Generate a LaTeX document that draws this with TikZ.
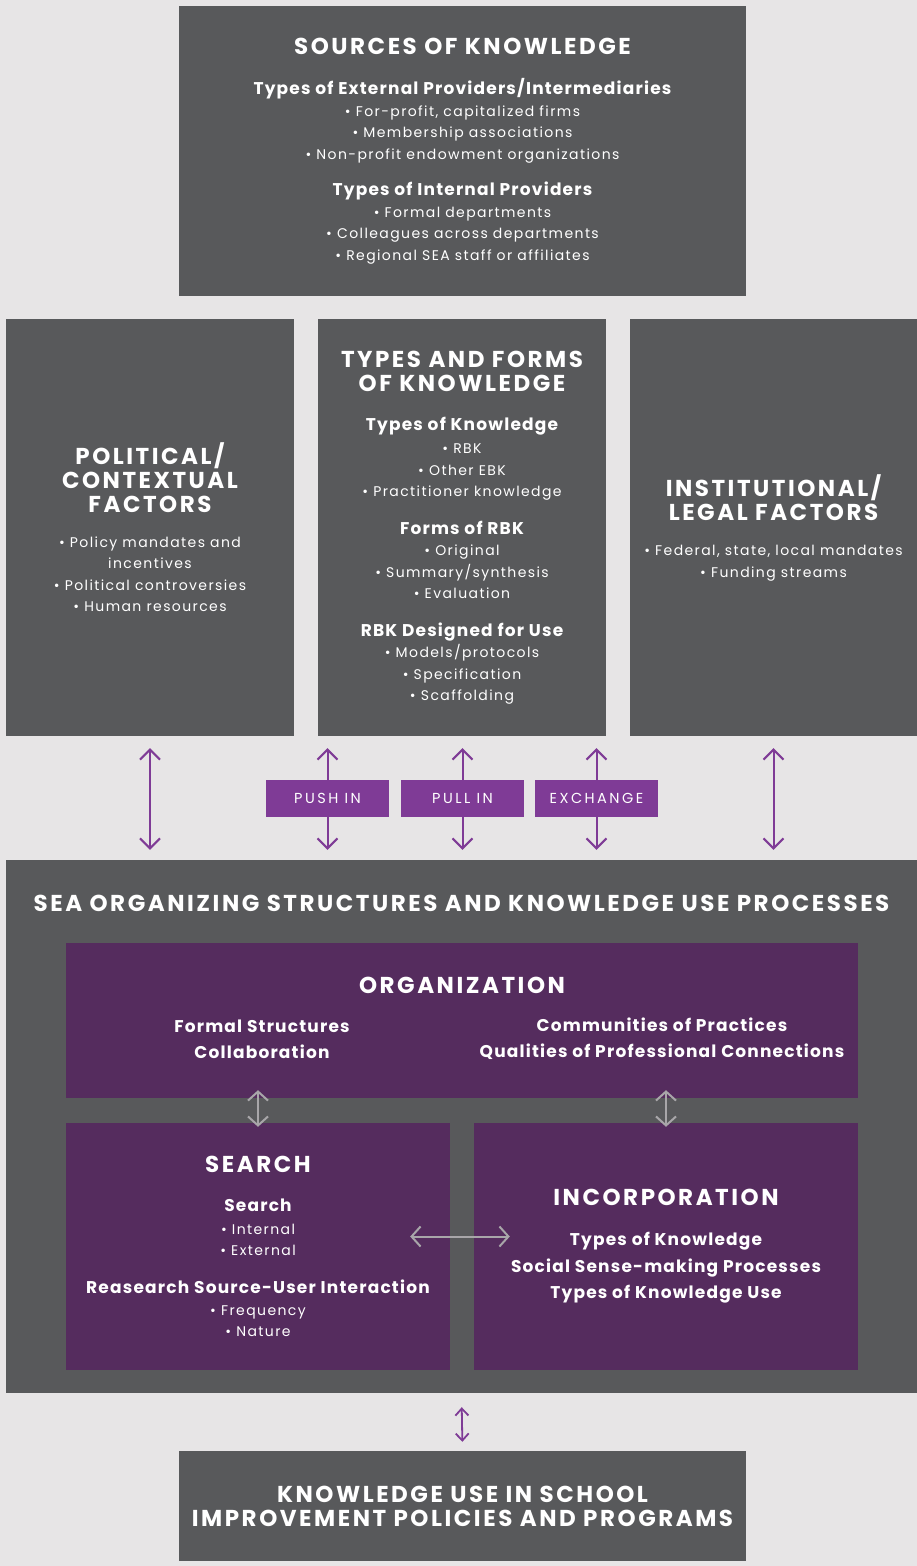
\documentclass[tikz,border=0pt]{standalone}
\usepackage{fontspec}
\setmainfont{Poppins}
\usetikzlibrary{arrows.meta}
\definecolor{bggray}{HTML}{E7E5E6}
\definecolor{boxgray}{HTML}{58595B}
\definecolor{plum}{HTML}{552C5E}
\definecolor{knowpurple}{HTML}{7F3B96}
\definecolor{arrowgray}{HTML}{A8A6A9}
\newcommand\ttl{\fontsize{23}{24}\selectfont\bfseries\addfontfeatures{LetterSpace=11}}
\newcommand\subhd{\fontsize{17}{21.5}\selectfont\bfseries\addfontfeatures{LetterSpace=7}}
\newcommand\bodytxt{\fontsize{14}{21.5}\selectfont\addfontfeatures{LetterSpace=10}}
\begin{document}
\begin{tikzpicture}[x=1pt, y=-1pt, line join=round, line cap=round,
    font=\bodytxt,
    box/.style={fill=boxgray, text=white, inner sep=0pt, align=center},
    inbox/.style={fill=plum, text=white, inner sep=0pt, align=center},
    tag/.style={fill=knowpurple, text=white, inner sep=0pt, minimum width=123, minimum height=37, font=\fontsize{14.5}{16}\selectfont\addfontfeatures{LetterSpace=17}},
    knowarrow/.style={draw=knowpurple, line width=2pt, {Straight Barb[length=10pt,width=20pt]}-{Straight Barb[length=10pt,width=20pt]}, shorten <=12pt, shorten >=10pt},
    grayarrow/.style={draw=arrowgray, line width=2pt, {Straight Barb[length=9pt,width=20pt]}-{Straight Barb[length=9pt,width=20pt]}}]
    \fill[bggray] (0,0) rectangle (917,1566);
    \useasboundingbox (0,0) rectangle (917,1566);
    % top row
    \node[box, minimum width=567, minimum height=290] (sources) at (462.5,151) {%
        {\ttl SOURCES OF KNOWLEDGE}\\[19pt]
        {\subhd Types of External Providers/Intermediaries}\\
        • For-profit, capitalized firms\\
        • Membership associations\\
        • Non-profit endowment organizations\\[15pt]
        {\subhd Types of Internal Providers}\\
        • Formal departments\\
        • Colleagues across departments\\
        • Regional SEA staff or affiliates};
    \node[box, minimum width=288, minimum height=417] (polit) at (150,527.5) {%
        {\ttl POLITICAL/}\\[2.5pt]
        {\ttl CONTEXTUAL}\\[2.5pt]
        {\ttl FACTORS}\\[13pt]
        • Policy mandates and\\
        incentives\\
        • Political controversies\\
        • Human resources};
    \node[box, minimum width=288, minimum height=417] (kinds) at (462,527.5) {%
        {\ttl TYPES AND FORMS}\\[2.5pt]
        {\ttl OF KNOWLEDGE}\\[18pt]
        {\subhd Types of Knowledge}\\[1.5pt]
        • RBK\\
        • Other EBK\\
        • Practitioner knowledge\\[16pt]
        {\subhd Forms of RBK}\\
        • Original\\
        • Summary/synthesis\\
        • Evaluation\\[16pt]
        {\subhd RBK Designed for Use}\\
        • Models/protocols\\
        • Specification\\
        • Scaffolding};
    \node[box, minimum width=287, minimum height=417] (inst) at (773.5,527.5) {%
        {\ttl INSTITUTIONAL/}\\[2.5pt]
        {\ttl LEGAL FACTORS}\\[14pt]
        • Federal, state, local mandates\\
        • Funding streams};
    % SEA block
    \node[box, minimum width=911, minimum height=533] (sea) at (461.5,1126.5) {};
    \node[text=white, font=\ttl] (seatitle) at (461.5,903) {SEA ORGANIZING STRUCTURES AND KNOWLEDGE USE PROCESSES};
    \node[inbox, minimum width=792, minimum height=155] (org) at (462,1020.5) {};
    \node[text=white, font=\ttl] (orgtitle) at (462,985) {ORGANIZATION};
    \node[text=white, align=center, font=\subhd] (orgleft) at (262,1039) {Formal Structures\\[4.5pt] Collaboration};
    \node[text=white, align=center, font=\subhd] (orgright) at (662,1039) {Communities of Practices\\[4.5pt] Qualities of Professional Connections};
    \node[inbox, minimum width=384, minimum height=247] (search) at (258,1246.5) {%
        {\ttl SEARCH}\\[17.5pt]
        {\subhd Search}\\[1.5pt]
        • Internal\\
        • External\\[16.5pt]
        {\subhd Reasearch Source-User Interaction}\\
        • Frequency\\
        • Nature};
    \node[inbox, minimum width=384, minimum height=247] (incorp) at (666,1246.5) {%
        {\ttl INCORPORATION}\\[18.5pt]
        {\subhd Types of Knowledge}\\[5.5pt]
        {\subhd Social Sense-making Processes}\\[4.5pt]
        {\subhd Types of Knowledge Use}};
    \node[box, minimum width=567, minimum height=110] (outcome) at (462.5,1506) {%
        {\ttl KNOWLEDGE USE IN SCHOOL}\\[2.5pt]
        {\ttl IMPROVEMENT POLICIES AND PROGRAMS}};
    % flows between the rows
    \coordinate (pushpt) at (327.5,798.5);
    \coordinate (pullpt) at (462.5,798.5);
    \coordinate (exchpt) at (596.5,798.5);
    \draw[knowarrow] (polit.south) -- (polit.south |- sea.north);
    \draw[knowarrow] (inst.south) -- (inst.south |- sea.north);
    \foreach \t in {pushpt,pullpt,exchpt}
        \draw[knowarrow] (\t |- kinds.south) -- (\t |- sea.north);
    \node[tag] (push) at (pushpt) {PUSH IN};
    \node[tag] (pull) at (pullpt) {PULL IN};
    \node[tag] (exch) at (exchpt) {EXCHANGE};
    % inside the SEA block
    \draw[grayarrow, shorten <=-8pt, shorten >=-4pt] (search.north |- org.south) -- (search.north);
    \draw[grayarrow, shorten <=-8pt, shorten >=-4pt] (incorp.north |- org.south) -- (incorp.north);
    \draw[grayarrow, shorten <=-40pt, shorten >=-36pt] ([yshift=10pt]search.east) -- ([yshift=10pt]incorp.west);
    \draw[knowarrow, line width=1.8pt, {Straight Barb[length=7pt,width=13pt]}-{Straight Barb[length=7pt,width=13pt]}, shorten <=14pt, shorten >=9pt] (sea.south) -- (outcome.north);
\end{tikzpicture}
\end{document}
